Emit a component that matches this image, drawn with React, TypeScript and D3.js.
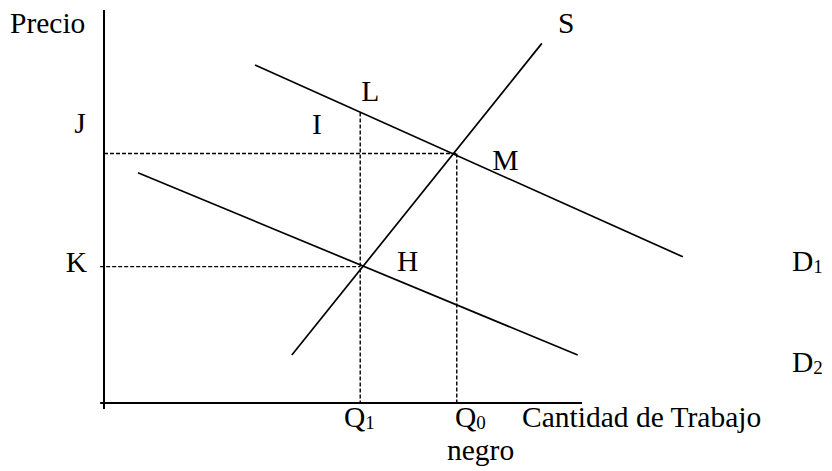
import React from "react";
import * as d3 from "d3";

// Curves (data units: quantity 0..100, price 0..100)
const demand1 = [
  { q: 31.6, p: 86.0 },
  { q: 121.1, p: 37.2 },
];
const demand2 = [
  { q: 7.1, p: 58.6 },
  { q: 99.1, p: 12.2 },
];
const supply = [
  { q: 39.3, p: 12.2 },
  { q: 91.6, p: 91.5 },
];
const priceLevels = [
  { name: "J", p: 63.5, qEnd: 73.8, qStart: 0 },
  { name: "K", p: 34.7, qEnd: 53.6, qStart: -0.8 },
];
const quantityLevels = [
  { name: "Q1", q: 53.6, pTop: 73.9 },
  { name: "Q0", q: 73.8, pTop: 63.5 },
];
// point labels: text, q, p (baseline-left anchor)
const pointLabels = [
  { t: "L", q: 53.8, p: 76.9 },
  { t: "I", q: 43.5, p: 68.4 },
  { t: "S", q: 95.0, p: 94.1 },
  { t: "M", q: 81.2, p: 59.3 },
  { t: "H", q: 61.3, p: 33.7 },
  { t: "J", q: -6.2, p: 68.7 },
  { t: "K", q: -8.0, p: 33.4 },
];

const W = 832;
const H = 471;

export default function App() {
  const x = d3.scaleLinear().domain([0, 100]).range([104, 582]);
  const y = d3.scaleLinear().domain([0, 100]).range([403, 10]);
  const line = d3
    .line<{ q: number; p: number }>()
    .x((d) => x(d.q))
    .y((d) => y(d.p));
  const font = "'Liberation Serif', 'Times New Roman', serif";
  const fs = 29.5;
  const sub = 19;
  return (
    <svg
      width={W}
      height={H}
      style={{ position: "absolute", left: 0, top: 0, background: "#fff" }}
      fontFamily={font}
    >
      <rect x={0} y={0} width={W} height={H} fill="#fff" />
      {/* axes */}
      <line x1={x(0)} x2={x(0)} y1={y(100)} y2={y(-1.5)} stroke="#000" strokeWidth={2} />
      <line x1={x(-0.8)} x2={x(100)} y1={y(0)} y2={y(0)} stroke="#000" strokeWidth={2} />
      {/* dashed guides */}
      {priceLevels.map((d) => (
        <line
          key={d.name}
          x1={x(d.qStart)}
          x2={x(d.qEnd)}
          y1={y(d.p)}
          y2={y(d.p)}
          stroke="#000"
          strokeWidth={1.4}
          strokeDasharray="4,2"
        />
      ))}
      {quantityLevels.map((d) => (
        <line
          key={d.name}
          x1={x(d.q)}
          x2={x(d.q)}
          y1={y(d.pTop)}
          y2={y(0)}
          stroke="#000"
          strokeWidth={1.4}
          strokeDasharray="4,2"
        />
      ))}
      {/* curves */}
      {[demand1, demand2, supply].map((c, i) => (
        <path key={i} d={line(c) || ""} fill="none" stroke="#000" strokeWidth={1.7} />
      ))}
      {/* labels */}
      <text x={10} y={33} fontSize={fs}>Precio</text>
      {pointLabels.map((l) => (
        <text key={l.t} x={x(l.q)} y={y(l.p)} fontSize={fs}>
          {l.t}
        </text>
      ))}
      <text x={344} y={427} fontSize={fs}>
        Q<tspan fontSize={sub} dy={2}>1</tspan>
      </text>
      <text x={455} y={427} fontSize={fs}>
        Q<tspan fontSize={sub} dy={2}>0</tspan>
      </text>
      <text x={522} y={427} fontSize={fs}>Cantidad de Trabajo</text>
      <text x={447} y={460} fontSize={fs}>negro</text>
      <text x={792} y={271} fontSize={fs}>
        D<tspan fontSize={sub} dy={2}>1</tspan>
      </text>
      <text x={792} y={372} fontSize={fs}>
        D<tspan fontSize={sub} dy={2}>2</tspan>
      </text>
    </svg>
  );
}
